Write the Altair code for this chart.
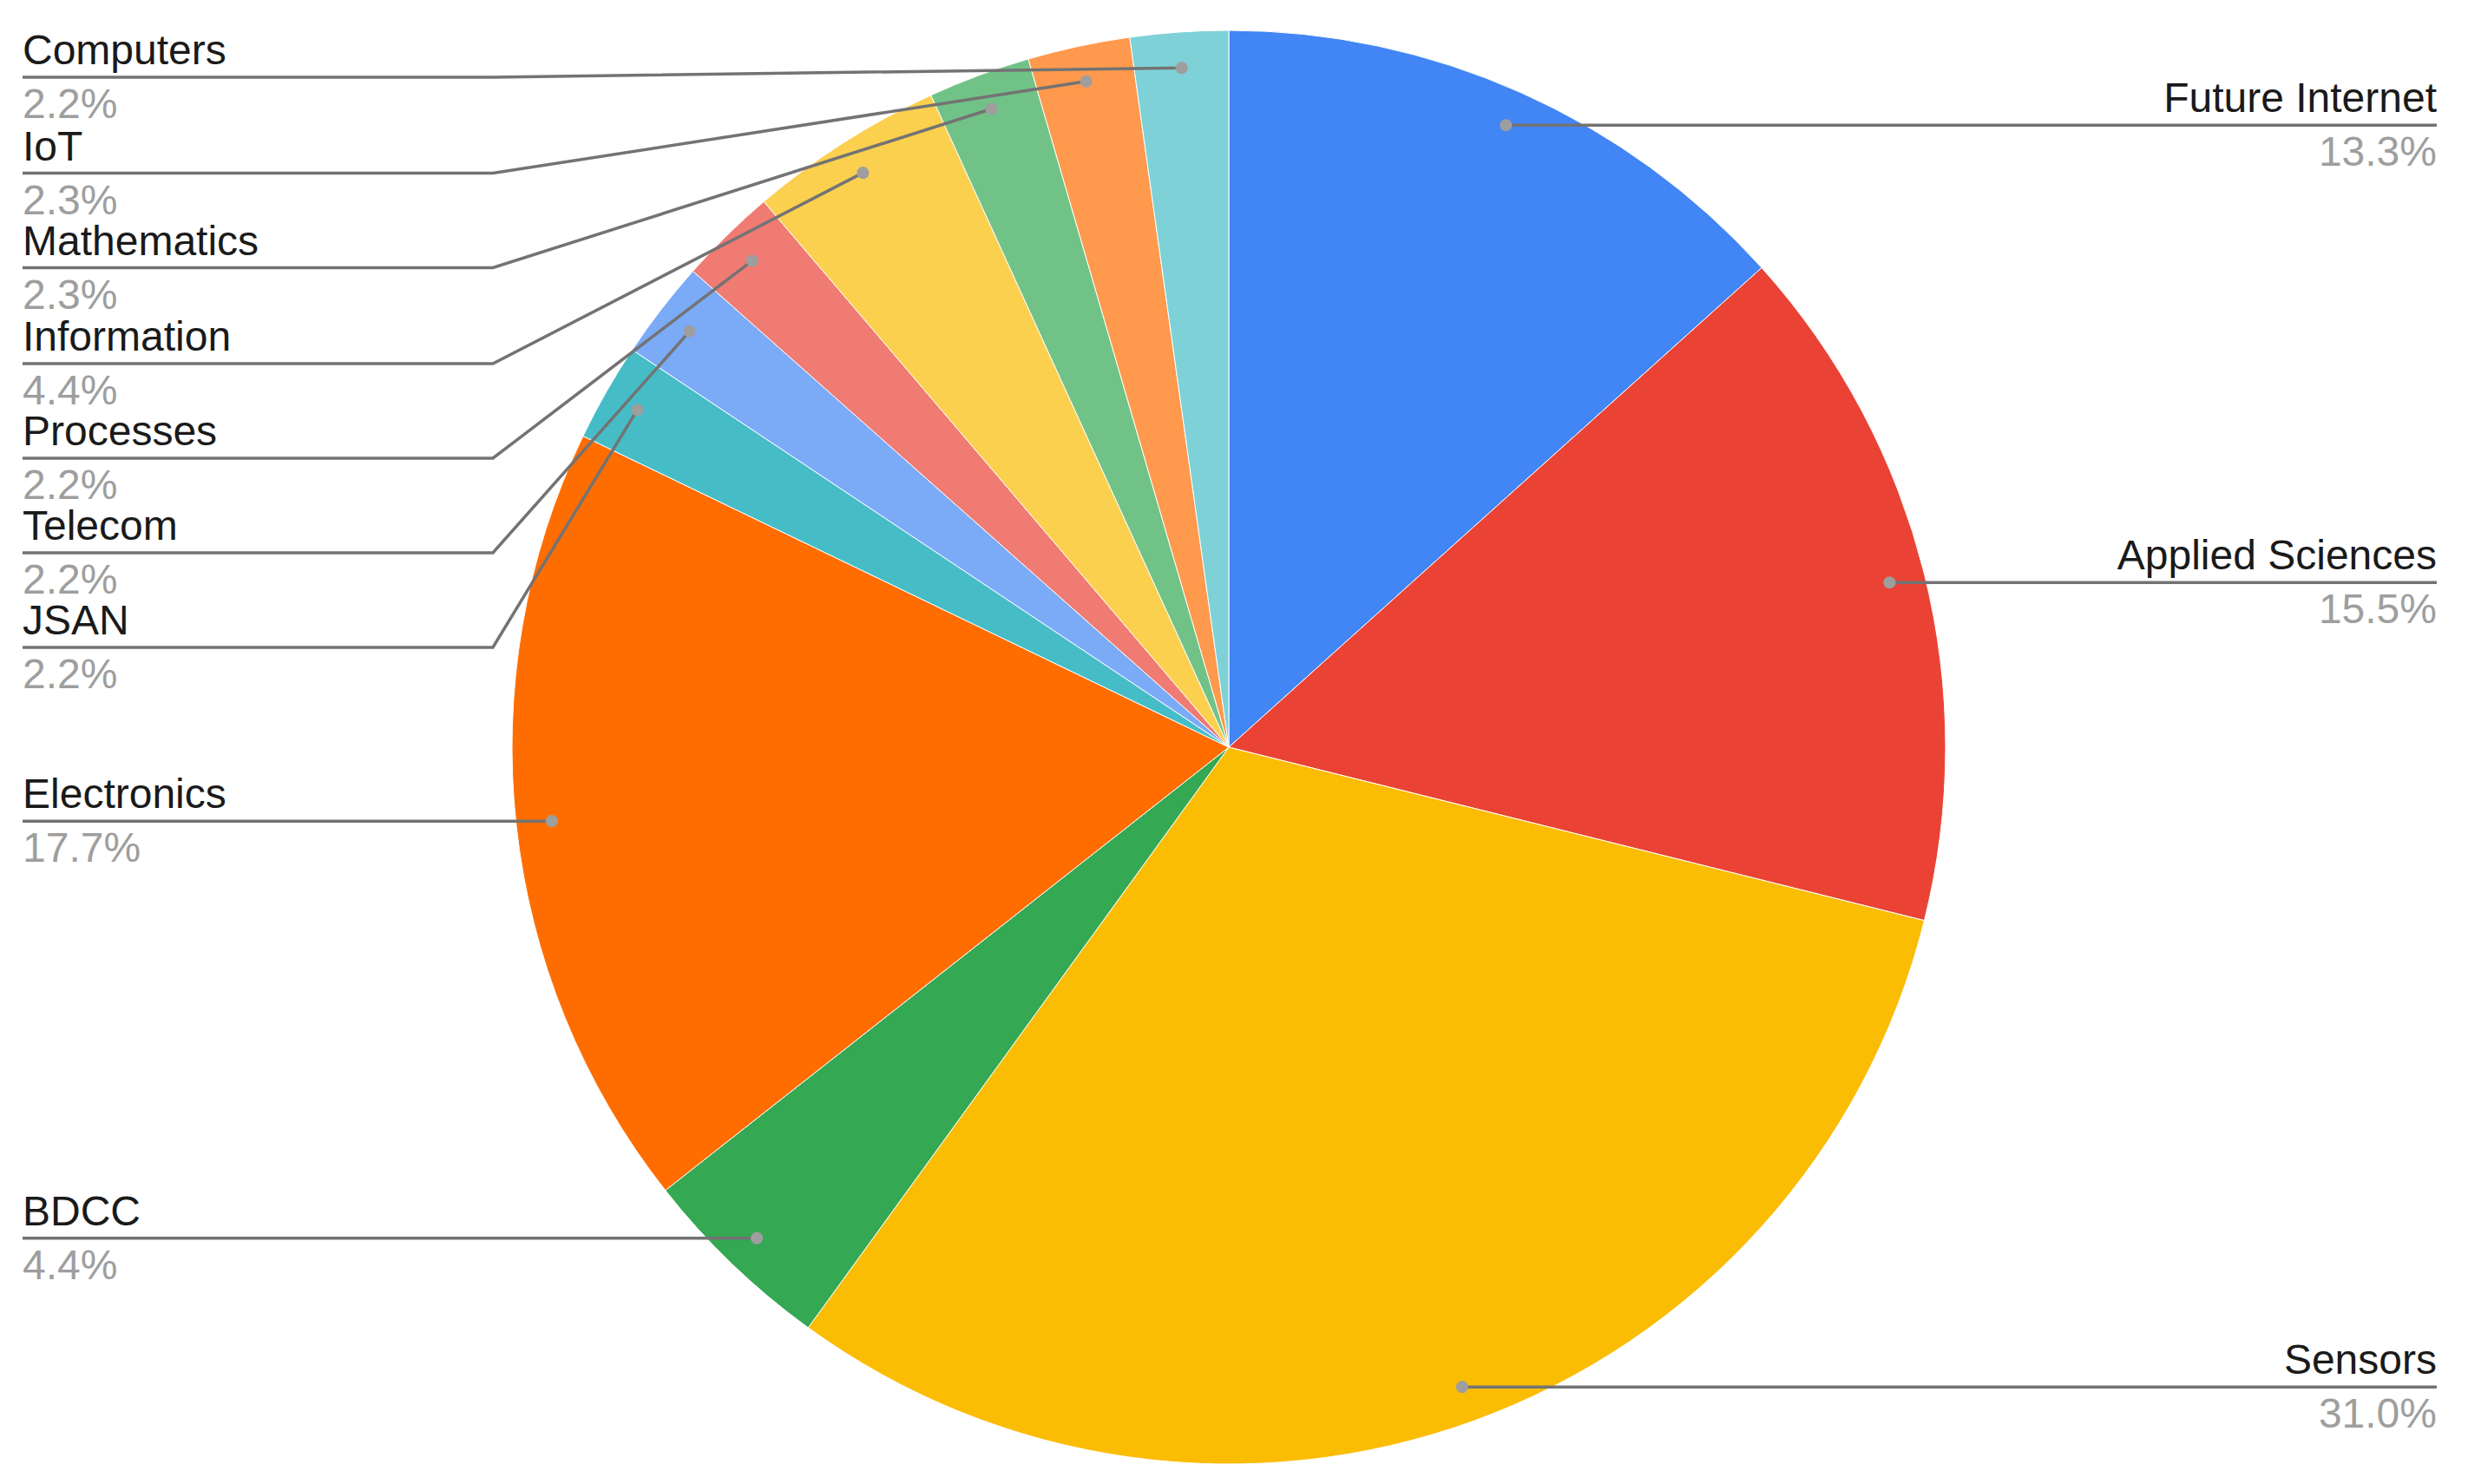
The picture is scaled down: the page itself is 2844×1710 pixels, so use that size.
import math
import altair as alt
import pandas as pd

# ---- data ----
names = ["Future Internet", "Applied Sciences", "Sensors", "BDCC", "Electronics",
         "JSAN", "Telecom", "Processes", "Information", "Mathematics", "IoT", "Computers"]
values = [13.3, 15.5, 31.0, 4.4, 17.7, 2.2, 2.2, 2.2, 4.4, 2.3, 2.3, 2.2]
colors = ["#4285F4", "#EA4335", "#FBBC04", "#34A853", "#FF6D01", "#46BDC6",
          "#7BAAF7", "#F07B72", "#FCD04F", "#71C287", "#FF994D", "#7ED1D7"]
pct_labels = [f"{v:.1f}%" for v in values]

# ---- layout (page pixels) ----
W, H = 2828, 1686
CX, CY, R = 1416, 861, 826
DOT_FRAC = 0.95
LEFT_X, RIGHT_X, BEND_X = 26, 2808, 568
stacked_label_y = {"Computers": 89, "IoT": 199.5, "Mathematics": 308.5,
                   "Information": 419, "Processes": 528, "Telecom": 637, "JSAN": 746}
NAME_DY, PCT_DY = -15, 47
FS = 48
FONT = "Arial"

total = sum(values)
pie_df = pd.DataFrame({"name": names, "value": values, "idx": range(len(names))})

dots, lines, texts_l, texts_r = [], [], [], []
cum = 0.0
for n, v, p in zip(names, values, pct_labels):
    mid = (cum + v / 2) / total * 2 * math.pi
    cum += v
    dx = CX + math.sin(mid) * R * DOT_FRAC
    dy = CY - math.cos(mid) * R * DOT_FRAC
    dots.append({"name": n, "x": dx, "y": dy})
    if mid < math.pi:
        ly = dy
        pts = [(dx, dy), (RIGHT_X, ly)]
        texts_r.append({"name": n, "x": RIGHT_X, "yn": ly + NAME_DY, "yp": ly + PCT_DY, "pct": p})
    else:
        ly = stacked_label_y.get(n, dy)
        if n in stacked_label_y:
            pts = [(dx, dy), (BEND_X, ly), (LEFT_X, ly)]
        else:
            pts = [(dx, dy), (LEFT_X, ly)]
        texts_l.append({"name": n, "x": LEFT_X, "yn": ly + NAME_DY, "yp": ly + PCT_DY, "pct": p})
    for k, (px, py) in enumerate(pts):
        lines.append({"name": n, "k": k, "x": px, "y": py})

dots_df = pd.DataFrame(dots)
lines_df = pd.DataFrame(lines)
tl_df = pd.DataFrame(texts_l)
tr_df = pd.DataFrame(texts_r)

xs = alt.Scale(domain=[8, 8 + W], nice=False, zero=False)
ys = alt.Scale(domain=[8, 8 + H], nice=False, zero=False, reverse=True)

pie = alt.Chart(pie_df).mark_arc(outerRadius=R, stroke="white", strokeWidth=1).encode(
    theta=alt.Theta("value:Q", stack=True),
    order=alt.Order("idx:Q", sort="ascending"),
    color=alt.Color("name:N", scale=alt.Scale(domain=names, range=colors), legend=None),
    x=alt.value(CX - 8),
    y=alt.value(CY - 8),
)

leader = alt.Chart(lines_df).mark_line(color="#737373", strokeWidth=3.5).encode(
    x=alt.X("x:Q", scale=xs, axis=None),
    y=alt.Y("y:Q", scale=ys, axis=None),
    detail="name:N",
    order="k:Q",
)

dot = alt.Chart(dots_df).mark_circle(color="#9E9E9E", opacity=1, size=200).encode(
    x=alt.X("x:Q", scale=xs, axis=None),
    y=alt.Y("y:Q", scale=ys, axis=None),
)

def txt(df, align, ycol, field, color):
    return alt.Chart(df).mark_text(align=align, baseline="alphabetic", font=FONT,
                                   fontSize=FS, color=color).encode(
        x=alt.X("x:Q", scale=xs, axis=None),
        y=alt.Y(f"{ycol}:Q", scale=ys, axis=None),
        text=f"{field}:N",
    )

chart = alt.layer(
    pie, leader, dot,
    txt(tl_df, "left", "yn", "name", "#1A1A1A"),
    txt(tl_df, "left", "yp", "pct", "#9E9E9E"),
    txt(tr_df, "right", "yn", "name", "#1A1A1A"),
    txt(tr_df, "right", "yp", "pct", "#9E9E9E"),
).properties(width=W, height=H, padding=0).configure_view(stroke=None)

chart.save("out.html", embed_options={"renderer": "svg", "actions": False})
